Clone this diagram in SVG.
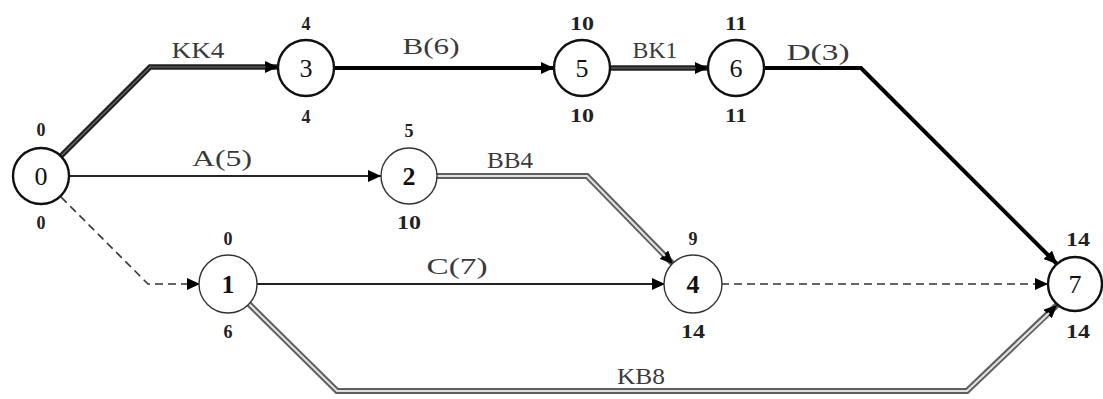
<svg xmlns="http://www.w3.org/2000/svg" width="1103" height="399" viewBox="0 0 1103 399">
<style>
.node{fill:#fff;stroke:#111;stroke-width:2.4}
.node.thin{stroke:#333;stroke-width:1.4}
.num{font-family:"Liberation Serif","Times New Roman",serif;font-size:26px;fill:#111;text-anchor:middle}
.num.b{font-weight:bold}
.t{font-family:"Liberation Serif","Times New Roman",serif;font-size:18px;font-weight:bold;fill:#222;text-anchor:middle}
.lab{font-family:"Liberation Serif","Times New Roman",serif;font-size:23px;fill:#3a3a3a;text-anchor:middle}
.crit{fill:none;stroke:#000;stroke-width:4}
.heavy{fill:none;stroke:#222;stroke-width:5.5}
.heavyin{fill:none;stroke:#6a6a6a;stroke-width:1.2}
.thinl{fill:none;stroke:#222;stroke-width:2}
.dash{fill:none;stroke:#333;stroke-width:1.6;stroke-dasharray:8 5}
.dbl{fill:none;stroke:#5e5e5e;stroke-width:6}
.dblin{fill:none;stroke:#e0e0e0;stroke-width:2.2}
</style>
<defs>
<marker id="arr" markerUnits="userSpaceOnUse" markerWidth="14" markerHeight="12" refX="13" refY="6" orient="auto">
<path d="M0,0 L13,6 L0,12 z" fill="#000"/>
</marker>
</defs>
<g id="connectors">
<g id="e-0-3"><path class="heavy" d="M61,156 L150,67 L278,67" marker-end="url(#arr)"/><path class="heavyin" d="M61,156 L150,67 L266,67"/></g>
<g id="e-3-5"><path class="crit" d="M335,68 L554,68" marker-end="url(#arr)"/></g>
<g id="e-5-6"><path class="heavy" d="M611,68 L708,68" marker-end="url(#arr)"/><path class="heavyin" d="M611,68 L696,68"/></g>
<g id="e-6-7"><path class="crit" d="M765,68 L861,68 L1057,264" marker-end="url(#arr)"/></g>
<g id="e-0-2"><path class="thinl" d="M70,176 L381,176" marker-end="url(#arr)"/></g>
<g id="e-2-4"><path class="dbl" d="M437,176 L587,176 L673,264" marker-end="url(#arr)"/><path class="dblin" d="M437,176 L587,176 L665,256"/></g>
<g id="e-0-1"><path class="dash" d="M61,197 L148,284 L200,284" marker-end="url(#arr)"/></g>
<g id="e-1-4"><path class="thinl" d="M256,284 L665,284" marker-end="url(#arr)"/></g>
<g id="e-4-7"><path class="dash" d="M721,284 L1048,284" marker-end="url(#arr)"/></g>
<g id="e-1-7"><path class="dbl" d="M249,304 L337,391 L967,391 L1057,305" marker-end="url(#arr)"/><path class="dblin" d="M249,304 L337,391 L967,391 L1049,313"/></g>
<text class="lab" x="198" y="58" textLength="53" lengthAdjust="spacingAndGlyphs">KK4</text>
<text class="lab" x="431" y="54" textLength="57" lengthAdjust="spacingAndGlyphs">B(6)</text>
<text class="lab" x="655" y="58" textLength="45" lengthAdjust="spacingAndGlyphs">BK1</text>
<text class="lab" x="818" y="60" textLength="63" lengthAdjust="spacingAndGlyphs">D(3)</text>
<text class="lab" x="222" y="166" textLength="60" lengthAdjust="spacingAndGlyphs">A(5)</text>
<text class="lab" x="510" y="168" textLength="46" lengthAdjust="spacingAndGlyphs">BB4</text>
<text class="lab" x="457" y="274" textLength="61" lengthAdjust="spacingAndGlyphs">C(7)</text>
<text class="lab" x="641" y="384" textLength="48" lengthAdjust="spacingAndGlyphs">KB8</text>
</g>
<g id="n0"><circle class="node" cx="41" cy="176" r="28"/><text class="num" x="41" y="185">0</text><text class="t" x="41" y="136">0</text><text class="t" x="41" y="229">0</text></g>
<g id="n3"><circle class="node" cx="306" cy="68" r="28"/><text class="num" x="306" y="77">3</text><text class="t" x="306" y="30">4</text><text class="t" x="306" y="123">4</text></g>
<g id="n5"><circle class="node" cx="582" cy="68" r="28"/><text class="num" x="582" y="77">5</text><text class="t" x="582" y="30" textLength="24" lengthAdjust="spacingAndGlyphs">10</text><text class="t" x="582" y="122" textLength="24" lengthAdjust="spacingAndGlyphs">10</text></g>
<g id="n6"><circle class="node" cx="736" cy="68" r="28"/><text class="num" x="736" y="77">6</text><text class="t" x="736" y="30" textLength="22" lengthAdjust="spacingAndGlyphs">11</text><text class="t" x="736" y="122" textLength="22" lengthAdjust="spacingAndGlyphs">11</text></g>
<g id="n2"><circle class="node thin" cx="409" cy="176" r="28"/><text class="num b" x="409" y="185">2</text><text class="t" x="409" y="137">5</text><text class="t" x="409" y="229" textLength="24" lengthAdjust="spacingAndGlyphs">10</text></g>
<g id="n1"><circle class="node thin" cx="228" cy="284" r="29"/><text class="num b" x="228" y="293">1</text><text class="t" x="228" y="245">0</text><text class="t" x="228" y="338">6</text></g>
<g id="n4"><circle class="node thin" cx="693" cy="284" r="29"/><text class="num b" x="693" y="293">4</text><text class="t" x="693" y="245">9</text><text class="t" x="693" y="338" textLength="24" lengthAdjust="spacingAndGlyphs">14</text></g>
<g id="n7"><circle class="node" cx="1075" cy="284" r="27"/><text class="num" x="1075" y="293">7</text><text class="t" x="1078" y="246" textLength="24" lengthAdjust="spacingAndGlyphs">14</text><text class="t" x="1078" y="338" textLength="24" lengthAdjust="spacingAndGlyphs">14</text></g>
</svg>
